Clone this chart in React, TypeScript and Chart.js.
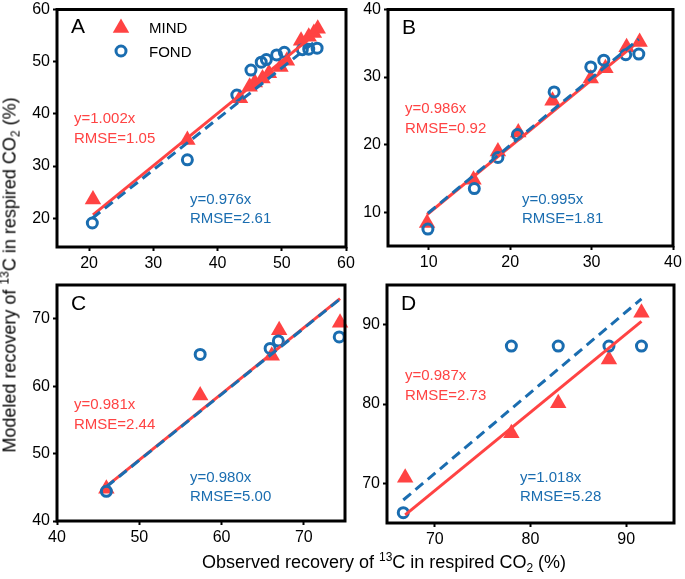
import React, { useEffect, useRef } from "react";
import { Chart, registerables } from "chart.js";

Chart.register(...registerables);

const RED = "#FF4343";
const BLUE = "#1A6DB0";
const FONT = "'Liberation Sans', Arial, sans-serif";

// ---------- Panel A ----------
const aMindObs = [20.6, 35.3, 43.5, 45.0, 45.8, 47.0, 48.0, 49.8, 50.8, 53.0, 54.2, 55.0, 55.6];
const aMindMod = [23.6, 35.0, 43.0, 45.2, 46.0, 46.8, 47.8, 49.0, 50.2, 54.0, 54.8, 55.5, 56.3];
const aFondObs = [20.5, 35.3, 43.0, 45.2, 46.8, 47.6, 49.2, 50.4, 53.2, 54.2, 55.5];
const aFondMod = [19.1, 31.2, 43.6, 48.4, 49.9, 50.4, 51.3, 51.8, 52.3, 52.4, 52.6];
const aSlopes = [1.002, 0.976];
const aRmse = ["1.05", "2.61"];
const aTicks = [20, 30, 40, 50, 60];

// ---------- Panel B ----------
const bMindObs = [9.8, 15.5, 18.5, 21.0, 25.2, 29.9, 31.7, 34.3, 35.9];
const bMindMod = [8.4, 14.8, 19.0, 21.8, 26.5, 29.8, 31.3, 34.4, 35.2];
const bFondObs = [9.9, 15.6, 18.5, 20.9, 25.4, 29.9, 31.5, 34.2, 35.8];
const bFondMod = [7.5, 13.5, 18.1, 21.5, 27.8, 31.5, 32.5, 33.3, 33.4];
const bSlopes = [0.986, 0.995];
const bRmse = ["0.92", "1.81"];
const bTicks = [10, 20, 30, 40];

// ---------- Panel C ----------
const cMindObs = [46.0, 57.4, 66.1, 67.0, 74.4];
const cMindMod = [44.8, 58.6, 64.5, 68.3, 69.4];
const cFondObs = [46.0, 57.4, 65.9, 66.9, 74.3];
const cFondMod = [44.4, 64.7, 65.6, 66.7, 67.3];
const cSlopes = [0.981, 0.98];
const cRmse = ["2.44", "5.00"];
const cTicks = [40, 50, 60, 70];

// ---------- Panel D ----------
const dMindObs = [66.9, 78.0, 82.9, 88.2, 91.6];
const dMindMod = [70.7, 76.3, 80.1, 85.6, 91.5];
const dFondObs = [66.7, 78.0, 82.9, 88.2, 91.6];
const dFondMod = [66.3, 87.3, 87.3, 87.3, 87.3];
const dSlopes = [0.987, 1.018];
const dRmse = ["2.73", "5.28"];
const dTicks = [70, 80, 90];

type Txt = { text: string; color: string; x: number; y: number; size: number };

type Panel = {
  letter: string;
  mindObs: number[];
  mindMod: number[];
  fondObs: number[];
  fondMod: number[];
  slopes: number[];
  rmse: string[];
  xTicks: number[];
  yTicks: number[];
  xRange: [number, number];
  yRange: [number, number];
  area: { l: number; t: number; r: number; b: number };
  letterPos: [number, number];
  redPos: [number, number];
  bluePos: [number, number];
  legend: boolean;
};

const panels: Panel[] = [
  {
    letter: "A", mindObs: aMindObs, mindMod: aMindMod, fondObs: aFondObs, fondMod: aFondMod,
    slopes: aSlopes, rmse: aRmse, xTicks: aTicks, yTicks: aTicks,
    xRange: [15, 60], yRange: [14.5, 60],
    area: { l: 57, t: 5, r: 346, b: 247 },
    letterPos: [71, 33], redPos: [74, 123], bluePos: [190, 204], legend: true,
  },
  {
    letter: "B", mindObs: bMindObs, mindMod: bMindMod, fondObs: bFondObs, fondMod: bFondMod,
    slopes: bSlopes, rmse: bRmse, xTicks: bTicks, yTicks: bTicks,
    xRange: [5, 40], yRange: [5, 40],
    area: { l: 388, t: 8, r: 673, b: 246 },
    letterPos: [402, 34], redPos: [405, 113], bluePos: [522, 204], legend: false,
  },
  {
    letter: "C", mindObs: cMindObs, mindMod: cMindMod, fondObs: cFondObs, fondMod: cFondMod,
    slopes: cSlopes, rmse: cRmse, xTicks: cTicks, yTicks: cTicks,
    xRange: [40, 75], yRange: [40, 75],
    area: { l: 57, t: 285, r: 345, b: 521 },
    letterPos: [71, 310], redPos: [74, 409], bluePos: [190, 482], legend: false,
  },
  {
    letter: "D", mindObs: dMindObs, mindMod: dMindMod, fondObs: dFondObs, fondMod: dFondMod,
    slopes: dSlopes, rmse: dRmse, xTicks: dTicks, yTicks: dTicks,
    xRange: [65, 95], yRange: [65, 95],
    area: { l: 387, t: 285, r: 674, b: 523 },
    letterPos: [401, 310], redPos: [405, 380], bluePos: [520, 482], legend: false,
  },
];

const W = 685;
const H = 579;
const Y_AXIS_W = 50;
const X_AXIS_H = 30;

function fitLine(obs: number[], slope: number) {
  const lo = Math.min(...obs);
  const hi = Math.max(...obs);
  return [
    { x: lo, y: slope * lo },
    { x: hi, y: slope * hi },
  ];
}

function makeConfig(p: Panel): any {
  const texts: Txt[] = [
    { text: p.letter, color: "#000", x: p.letterPos[0], y: p.letterPos[1], size: 21 },
    { text: `y=${p.slopes[0].toFixed(3)}x`, color: RED, x: p.redPos[0], y: p.redPos[1], size: 15 },
    { text: `RMSE=${p.rmse[0]}`, color: RED, x: p.redPos[0], y: p.redPos[1] + 20, size: 15 },
    { text: `y=${p.slopes[1].toFixed(3)}x`, color: BLUE, x: p.bluePos[0], y: p.bluePos[1], size: 15 },
    { text: `RMSE=${p.rmse[1]}`, color: BLUE, x: p.bluePos[0], y: p.bluePos[1] + 19, size: 15 },
  ];

  const framePlugin = {
    id: "frame" + p.letter,
    afterDraw(chart: any) {
      const { ctx, chartArea: a } = chart;
      ctx.save();
      ctx.strokeStyle = "#000";
      ctx.lineWidth = 3;
      ctx.strokeRect(a.left, a.top, a.right - a.left, a.bottom - a.top);
      ctx.textBaseline = "alphabetic";
      ctx.textAlign = "left";
      for (const t of texts) {
        ctx.fillStyle = t.color;
        ctx.font = `${t.size}px ${FONT}`;
        ctx.fillText(t.text, t.x, t.y);
      }
      if (p.legend) {
        ctx.fillStyle = RED;
        const tx = 121, ty = 28, r = 9.5;
        ctx.beginPath();
        ctx.moveTo(tx, ty - r);
        ctx.lineTo(tx + r * Math.sin(Math.PI * 2 / 3), ty + r / 2);
        ctx.lineTo(tx - r * Math.sin(Math.PI * 2 / 3), ty + r / 2);
        ctx.closePath();
        ctx.fill();
        ctx.strokeStyle = BLUE;
        ctx.lineWidth = 3;
        ctx.beginPath();
        ctx.arc(121, 51, 5, 0, Math.PI * 2);
        ctx.stroke();
        ctx.fillStyle = "#000";
        ctx.font = `15px ${FONT}`;
        ctx.fillText("MIND", 149, 33);
        ctx.fillText("FOND", 149, 57);
      }
      ctx.restore();
    },
  };

  const axisCommon = (ticksArr: number[], range: [number, number], isX: boolean) => ({
    type: "linear",
    min: range[0],
    max: range[1],
    afterBuildTicks: (s: any) => {
      s.ticks = ticksArr.map((v) => ({ value: v }));
    },
    afterFit: (s: any) => {
      if (isX) s.height = X_AXIS_H;
      else s.width = Y_AXIS_W;
      s.paddingLeft = 0;
      s.paddingRight = 0;
      s.paddingTop = 0;
      s.paddingBottom = 0;
    },
    grid: {
      drawOnChartArea: false,
      drawTicks: true,
      tickLength: 4,
      tickColor: "#000",
      tickWidth: 2,
    },
    border: { display: false },
    ticks: {
      color: "#000",
      font: { family: FONT, size: 16 },
      padding: 3,
      maxRotation: 0,
      autoSkip: false,
    },
  });

  const a = p.area;
  return {
    type: "scatter",
    data: {
      datasets: [
        {
          label: "FOND fit",
          data: fitLine(p.fondObs, p.slopes[1]),
          showLine: true,
          borderColor: BLUE,
          borderWidth: 3,
          borderDash: [10, 6],
          pointRadius: 0,
          order: 0,
        },
        {
          label: "MIND fit",
          data: fitLine(p.mindObs, p.slopes[0]),
          showLine: true,
          borderColor: RED,
          borderWidth: 3,
          pointRadius: 0,
          order: 1,
        },
        {
          label: "FOND",
          data: p.fondObs.map((x, i) => ({ x, y: p.fondMod[i] })),
          pointStyle: "circle",
          pointRadius: 5,
          borderWidth: 3,
          borderColor: BLUE,
          backgroundColor: "rgba(255,255,255,0)",
          clip: false,
          order: 2,
        },
        {
          label: "MIND",
          data: p.mindObs.map((x, i) => ({ x, y: p.mindMod[i] })),
          pointStyle: "triangle",
          pointRadius: 9.5,
          borderWidth: 0,
          borderColor: RED,
          backgroundColor: RED,
          clip: false,
          order: 3,
        },
      ],
    },
    options: {
      responsive: false,
      animation: false,
      events: [],
      layout: {
        padding: {
          left: a.l - Y_AXIS_W,
          top: a.t,
          right: W - a.r,
          bottom: H - a.b - X_AXIS_H,
        },
      },
      plugins: {
        legend: { display: false },
        tooltip: { enabled: false },
        title: { display: false },
      },
      scales: {
        x: axisCommon(p.xTicks, p.xRange, true),
        y: axisCommon(p.yTicks, p.yRange, false),
      },
    },
    plugins: [framePlugin],
  };
}

function PanelChart({ panel }: { panel: Panel }) {
  const ref = useRef<HTMLCanvasElement | null>(null);
  useEffect(() => {
    if (!ref.current) return;
    const chart = new Chart(ref.current, makeConfig(panel));
    return () => chart.destroy();
  }, [panel]);
  return (
    <canvas
      ref={ref}
      width={W}
      height={H}
      style={{ position: "absolute", left: 0, top: 0, width: W, height: H }}
    />
  );
}

const supStyle: React.CSSProperties = {
  fontSize: 12,
  verticalAlign: "baseline",
  position: "relative",
  top: -7,
};
const subStyle: React.CSSProperties = {
  fontSize: 12,
  verticalAlign: "baseline",
  position: "relative",
  top: 4,
};

const titleStyle: React.CSSProperties = {
  position: "absolute",
  fontFamily: FONT,
  fontSize: 18,
  lineHeight: "19px",
  whiteSpace: "nowrap",
  color: "#000",
};

export default function App() {
  return (
    <div
      style={{
        position: "absolute",
        left: 0,
        top: 0,
        width: W,
        height: H,
        background: "#fff",
        overflow: "hidden",
      }}
    >
      {panels.map((p) => (
        <PanelChart key={p.letter} panel={p} />
      ))}
      <div style={{ ...titleStyle, left: 384, top: 553, transform: "translateX(-50%)" }}>
        Observed recovery of <sup style={supStyle}>13</sup>C in respired CO
        <sub style={subStyle}>2</sub> (%)
      </div>
      <div
        style={{
          ...titleStyle,
          left: 11,
          top: 275,
          transform: "translate(-50%, -50%) rotate(-90deg)",
        }}
      >
        Modeled recovery of <sup style={supStyle}>13</sup>C in respired CO
        <sub style={subStyle}>2</sub> (%)
      </div>
    </div>
  );
}
